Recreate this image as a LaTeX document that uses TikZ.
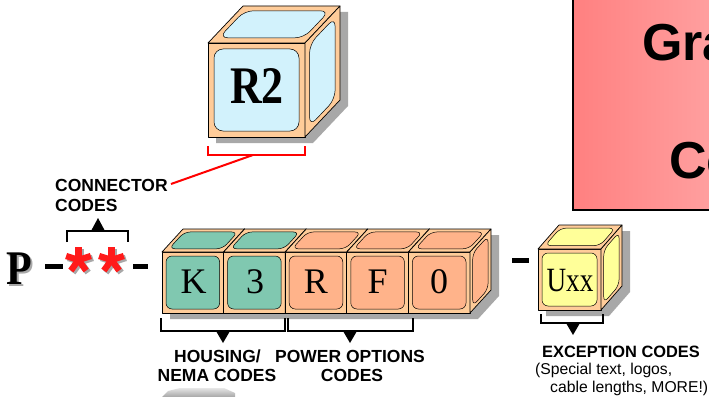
\documentclass[tikz,border=0pt]{standalone}
\usepackage{fontspec}
\setmainfont{Liberation Serif}
\newfontfamily\sansf{Liberation Sans}
\usepackage{graphicx}
\definecolor{peach}{HTML}{FFCC99}
\definecolor{tealin}{HTML}{80C8B0}
\definecolor{salmonin}{HTML}{FFB38A}
\definecolor{cyanin}{HTML}{D2F2FC}
\definecolor{yelin}{HTML}{FFFF99}
\definecolor{shadowgray}{HTML}{A8A8A8}
\definecolor{boxL}{HTML}{FF8080}
\definecolor{boxR}{HTML}{FFA0A0}
\definecolor{starred}{HTML}{FF1A1A}
\def\cubeins{5}
\def\cuberad{6pt}
\newcommand\mkshadow[6]{%
  \fill[shadowgray] ({#1+8},{#2+#4+6}) -- ++(#3,0) -- ++(#5,-#6) -- ++(0,-#4) -- ++(-#3,0) -- ++(-#5,#6) -- cycle;}
\newcommand\mkcube[9]{%
  \begin{scope}[shift={(#1,#2)}]
    \filldraw[cubeedge] (0,0) rectangle (#3,#4);
    \filldraw[cubeedge] (0,0) -- (#5,-#6) -- ({#3+#5},-#6) -- (#3,0) -- cycle;
    \filldraw[cubeedge] (#3,0) -- ({#3+#5},-#6) -- ({#3+#5},{#4-#6}) -- (#3,#4) -- cycle;
    \filldraw[innerface,fill=#7] (\cubeins,\cubeins) rectangle ({#3-\cubeins},{#4-\cubeins});
    \filldraw[innerface,fill=#8] ({\cubeins+.14*#5},{-.14*#6}) -- ({#3-\cubeins+.14*#5},{-.14*#6}) -- ({#3-\cubeins+.87*#5},{-.87*#6}) -- ({\cubeins+.87*#5},{-.87*#6}) -- cycle;
    \filldraw[innerface,fill=#9] ({#3+.13*#5},{-.13*#6+\cubeins}) -- ({#3+.86*#5},{-.86*#6+\cubeins}) -- ({#3+.86*#5},{#4-.86*#6-\cubeins}) -- ({#3+.13*#5},{#4-.13*#6-\cubeins}) -- cycle;
  \end{scope}}
\newcommand\redstar[2]{%
  \foreach \a in {90,18,-54,-126,162}{
    \draw[shadowgray,line width=6.3pt] ({#1+2},{#2+2}) -- ++({13*cos(\a)},{-13*sin(\a)});}
  \foreach \a in {90,18,-54,-126,162}{
    \draw[starred,line width=6.3pt] (#1,#2) -- ++({13*cos(\a)},{-13*sin(\a)});}}
\begin{document}
\begin{tikzpicture}[x=1pt,y=-1pt,
  cubeedge/.style={draw=black,line width=0.7pt,fill=peach,line join=round},
  innerface/.style={draw=black,line width=0.5pt,rounded corners=\cuberad},
  brk/.style={draw=black,line width=2.4pt},
  tri/.style={fill=black},
  lbl/.style={font=\sansf\bfseries\fontsize{17.5}{17.5}\selectfont,inner sep=0pt},
  codechar/.style={font=\fontsize{36}{36}\selectfont,inner sep=0pt},
  dashbar/.style={fill=black}]
\clip (0,0) rectangle (709,396);
\fill[white] (0,0) rectangle (709,396);
% red title box
\shade[left color=boxL,right color=boxR] (573,-5) rectangle (715,210);
\draw[line width=1.6pt] (573,-5) -- (573,210) -- (715,210);
\node[font=\sansf\bfseries\fontsize{52}{52}\selectfont,inner sep=0pt,anchor=base west] (gra) at (642,61) {Gra};
\node[font=\sansf\bfseries\fontsize{52}{52}\selectfont,inner sep=0pt,anchor=base west] (co) at (669,178) {Co};
% R2 cube
\def\cubeins{6}\def\cuberad{9pt}
\mkshadow{208}{43}{97}{94}{35}{37}
\mkcube{208}{43}{97}{94}{35}{37}{cyanin}{cyanin}{cyanin}
\node[font=\bfseries\fontsize{44}{44}\selectfont,inner sep=0pt] (r2) at (257,86) {\scalebox{1}[1.2]{R2}};
% red bracket and leader
\draw[red,line width=2.6pt] (208,146) -- (208,155) -- (305,155) -- (305,146);
\coordinate (redmid) at (253,155);
\coordinate (redend) at (171,184);
\draw[red,line width=2pt] (redmid) -- (redend);
\node[lbl,anchor=base west] (conn1) at (55,191.5) {CONNECTOR};
\node[lbl,anchor=base west] (conn2) at (55,211) {CODES};
% connector bracket
\draw[brk] (67,242) -- (67,231) -- (128,231) -- (128,242);
\fill[tri] (91,231) -- (105,231) -- (98,218) -- cycle;
% P and dashes
\node[font=\bfseries\fontsize{42}{42}\selectfont,inner sep=0pt,text=shadowgray] (pshadow) at (21,271) {\scalebox{1}[1.15]{P}};
\node[font=\bfseries\fontsize{42}{42}\selectfont,inner sep=0pt] (p) at (19,269) {\scalebox{1}[1.15]{P}};
\fill[dashbar] (45,264) rectangle (63,269);
\redstar{78.5}{260}
\redstar{111.5}{260}
\fill[dashbar] (133,264) rectangle (148,269);
% row of cubes
\def\cubeins{4}\def\cuberad{6pt}
\mkshadow{162}{252}{308}{61}{21}{23}
\mkcube{162}{252}{61.6}{61}{21}{23}{tealin}{tealin}{tealin}
\mkcube{223.6}{252}{61.6}{61}{21}{23}{tealin}{tealin}{salmonin}
\mkcube{285.2}{252}{61.6}{61}{21}{23}{salmonin}{salmonin}{salmonin}
\mkcube{346.8}{252}{61.6}{61}{21}{23}{salmonin}{salmonin}{salmonin}
\mkcube{408.4}{252}{61.6}{61}{21}{23}{salmonin}{salmonin}{salmonin}
\node[codechar] (k) at (193.5,282) {K};
\node[codechar] (three) at (255,282) {3};
\node[codechar] (r) at (316,282) {R};
\node[codechar] (f) at (377.6,282) {F};
\node[codechar] (zero) at (439.2,282) {0};
% brackets under row
\draw[brk] (161,318) -- (161,331) -- (285,331) -- (285,318);
\fill[tri] (216,331) -- (230,331) -- (223,343) -- cycle;
\draw[brk] (288,318) -- (288,331) -- (413,331) -- (413,318);
\fill[tri] (343,331) -- (357,331) -- (350,343) -- cycle;
\node[lbl,anchor=base] (hous1) at (217.5,362) {HOUSING/};
\node[lbl,anchor=base] (hous2) at (217,381) {NEMA CODES};
\node[lbl,anchor=base] (pow1) at (350,362) {POWER OPTIONS};
\node[lbl,anchor=base] (pow2) at (352,381) {CODES};
% exception cube
\fill[dashbar] (512,258) rectangle (529,263);
\def\cubeins{4}\def\cuberad{6pt}
\mkshadow{538}{249}{63}{61}{21}{24}
\mkcube{538}{249}{63}{61}{21}{24}{yelin}{yelin}{yelin}
\node[font=\fontsize{34}{34}\selectfont,inner sep=0pt] (uxx) at (570,281) {\scalebox{0.8}[1]{Uxx}};
\draw[brk] (541,314) -- (541,323) -- (603,323) -- (603,314);
\fill[tri] (566,323) -- (580,323) -- (573,335) -- cycle;
\node[font=\sansf\bfseries\fontsize{16.4}{16.4}\selectfont,inner sep=0pt,anchor=base west] (exc) at (542,357) {EXCEPTION CODES};
\node[font=\sansf\fontsize{15.7}{15.7}\selectfont,inner sep=0pt,anchor=base west] (exc2) at (535,374) {(Special text, logos,};
\node[font=\sansf\fontsize{15.7}{15.7}\selectfont,inner sep=0pt,anchor=base west] (exc3) at (550,392) {cable lengths, MORE!)};
% partial grey photo object at bottom
\shade[top color=white!80!gray,bottom color=gray!70] (162,397) -- (168,391) -- (180,388) -- (224,388) -- (235,393) -- (235,397) -- cycle;
\end{tikzpicture}
\end{document}
